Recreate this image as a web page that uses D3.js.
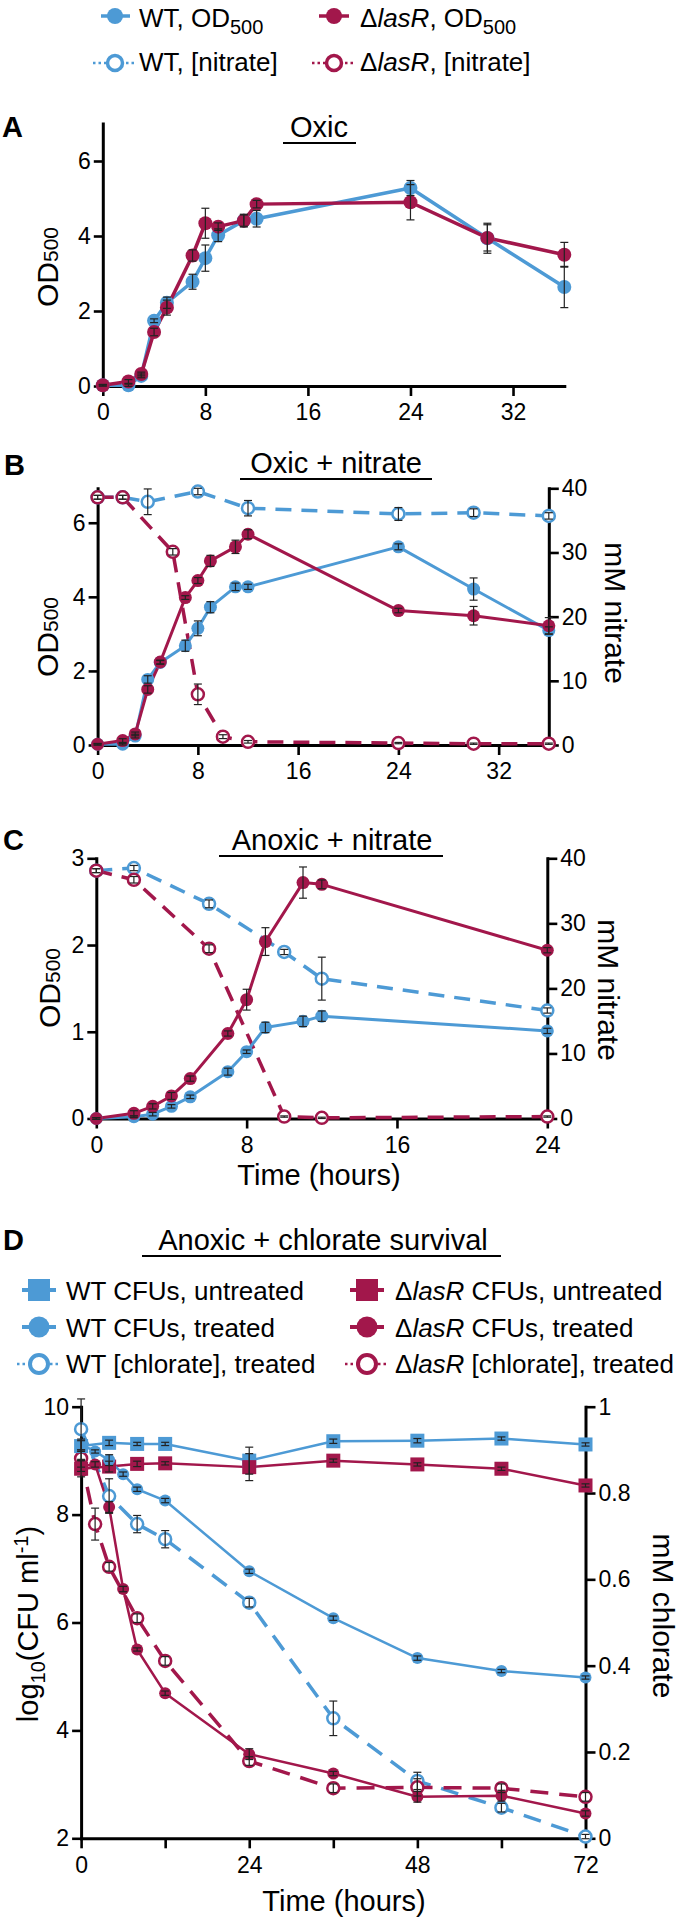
<!DOCTYPE html>
<html><head><meta charset="utf-8">
<script src="https://cdn.jsdelivr.net/npm/d3@7"></script>
<style>body{margin:0;background:#fff} svg{display:block}</style>
</head><body>
<svg id="fig" width="680" height="1924"></svg>
<script>
// ---------------- DATA ----------------
const BLUE = "#4d9ad5", RED = "#a2174b";

// Panel A: Oxic
const hoursA = [0,2,3,4,5,7,8,9,11,12,24,30,36];
const odA_WT = [0.02,0.02,0.27,1.74,2.22,2.78,3.41,4.02,4.41,4.46,5.28,3.94,2.64];
const odA_WT_sd = [0.02,0.03,0.05,0.05,0.15,0.2,0.35,0.17,0.15,0.22,0.2,0.4,0.55];
const odA_lasR = [0.02,0.12,0.32,1.44,2.09,3.48,4.34,4.25,4.41,4.85,4.90,3.95,3.50];
const odA_lasR_sd = [0.02,0.05,0.05,0.1,0.2,0.15,0.4,0.1,0.17,0.1,0.47,0.35,0.33];

// Panel B: Oxic + nitrate
const hoursB = [0,2,3,4,5,7,8,9,11,12,24,30,36];
const odB_WT = [0.02,0.02,0.24,1.77,2.23,2.68,3.15,3.72,4.27,4.27,5.35,4.21,3.09];
const odB_WT_sd = [0.02,0.02,0.05,0.1,0.05,0.15,0.2,0.15,0.1,0.07,0.08,0.3,0.1];
const odB_lasR = [0.02,0.12,0.30,1.50,2.24,3.98,4.44,4.97,5.35,5.69,3.63,3.49,3.22];
const odB_lasR_sd = [0.02,0.05,0.05,0.1,0.05,0.05,0.08,0.15,0.18,0.12,0.06,0.25,0.22];
const hoursB_no3_WT = [0,2,4,8,12,24,30,36];
const no3B_WT = [38.6,38.6,37.9,39.5,36.9,36.0,36.2,35.7];
const no3B_WT_sd = [0.3,0.3,2.0,0.5,1.2,1.0,0.6,0.5];
const hoursB_no3_lasR = [0,2,6,8,10,12,24,30,36];
const no3B_lasR = [38.6,38.6,30.1,7.9,1.3,0.5,0.3,0.2,0.2];
const no3B_lasR_sd = [0.3,0.3,0.5,1.6,0.3,0.2,0.1,0.1,0.1];

// Panel C: Anoxic + nitrate
const hoursC = [0,2,3,4,5,7,8,9,11,12,24];
const odC_WT = [0,0.02,0.05,0.14,0.25,0.54,0.77,1.05,1.12,1.18,1.01];
const odC_WT_sd = [0.01,0.01,0.02,0.02,0.02,0.04,0.02,0.06,0.06,0.06,0.03];
const odC_lasR = [0,0.06,0.14,0.26,0.46,0.98,1.37,2.04,2.72,2.70,1.94];
const odC_lasR_sd = [0.01,0.03,0.03,0.04,0.03,0.03,0.12,0.16,0.18,0.05,0.03];
const hoursC_no3 = [0,2,6,10,12,24];
const no3C_WT = [38.1,38.5,33.0,25.6,21.5,16.6];
const no3C_WT_sd = [0.3,0.4,0.6,0.4,3.3,0.4];
const no3C_lasR = [38.1,36.7,26.1,0.3,0.1,0.3];
const no3C_lasR_sd = [0.3,0.5,0.6,0.1,0.1,0.1];

// Panel D: Anoxic + chlorate survival
const hoursD_untr = [0,4,8,12,24,36,48,60,72];
const cfuD_WT_untr = [9.27,9.33,9.31,9.31,9.00,9.36,9.37,9.41,9.30];
const cfuD_WT_untr_sd = [0.1,0.05,0.03,0.03,0.25,0.04,0.04,0.03,0.03];
const cfuD_lasR_untr = [8.85,8.89,8.94,8.95,8.88,9.00,8.93,8.85,8.54];
const cfuD_lasR_untr_sd = [0.15,0.1,0.05,0.03,0.25,0.03,0.03,0.03,0.03];
const hoursD_trt = [0,2,4,6,8,12,24,36,48,60,72];
const cfuD_WT_trt = [9.3,9.17,9.01,8.75,8.47,8.26,6.95,6.08,5.34,5.10,4.98];
const cfuD_WT_trt_sd = [0.1,0.03,0.1,0.04,0.04,0.04,0.04,0.04,0.04,0.03,0.03];
const cfuD_lasR_trt = [8.9,8.93,8.14,6.62,5.50,4.69,3.56,3.20,2.77,2.79,2.46];
const cfuD_lasR_trt_sd = [0.1,0.05,0.1,0.05,0.03,0.04,0.1,0.04,0.1,0.1,0.05];
const hoursD_clo_WT = [0,4,8,12,24,36,48,60,72];
const cloD_WT = [0.948,0.793,0.728,0.693,0.546,0.278,0.133,0.071,0.004];
const cloD_WT_sd = [0.07,0.04,0.02,0.02,0.01,0.04,0.02,0.01,0.005];
const hoursD_clo_lasR = [0,2,4,8,12,24,36,48,60,72];
const cloD_lasR = [0.88,0.728,0.629,0.51,0.411,0.179,0.116,0.118,0.116,0.096];
const cloD_lasR_sd = [0.02,0.037,0.01,0.01,0.01,0.01,0.01,0.02,0.01,0.01];

// Tick values
const xTicksAB = [0,8,16,24,32];
const xTicksC = [0,8,16,24];
const xTicksD = [0,12,24,36,48,60,72];
const xLabelsD = [0,24,48,72];
const yTicksOD = [0,2,4,6];
const yTicksC = [0,1,2,3];
const yTicksNitrate = [0,10,20,30,40];
const yTicksCFU = [2,4,6,8,10];
const yTicksChlorate = [0,0.2,0.4,0.6,0.8,1];

// ---------------- DRAWING ----------------
const FONT = '"Liberation Sans", Arial, Helvetica, sans-serif';
const svg = d3.select('#fig');
svg.append('rect').attr('width',680).attr('height',1924).attr('fill','#fff');

function rich(parent, x, y, parts, o = {}) {
  const t = parent.append('text')
    .attr('transform', `translate(${x},${y})` + (o.rotate ? ` rotate(${o.rotate})` : ''))
    .attr('text-anchor', o.anchor || 'start')
    .attr('font-family', FONT).attr('font-size', o.size || 26)
    .attr('font-weight', o.weight || 'normal').attr('fill', '#000');
  let cur = 0;
  parts.forEach(p => {
    if (typeof p === 'string') p = {t: p};
    const s = t.append('tspan').text(p.t);
    const sh = p.shift || 0;
    if (sh !== cur) { s.attr('dy', sh - cur); cur = sh; }
    if (p.size) s.attr('font-size', p.size);
    if (p.italic) s.attr('font-style', 'italic');
  });
  return t;
}

function marker(g, cx, cy, kind, color, r, sw) {
  if (kind === 'square') {
    g.append('rect').attr('x', cx - r).attr('y', cy - r).attr('width', 2*r).attr('height', 2*r).attr('fill', color);
  } else if (kind === 'open') {
    g.append('circle').attr('cx', cx).attr('cy', cy).attr('r', r).attr('fill', '#fff').attr('stroke', color).attr('stroke-width', sw || 2.5);
  } else {
    g.append('circle').attr('cx', cx).attr('cy', cy).attr('r', r).attr('fill', color);
  }
}

function styleAxis(ax, fs) {
  ax.selectAll('.domain').attr('stroke', '#000').attr('stroke-width', 3).attr('stroke-linecap', 'square');
  ax.selectAll('.tick line').attr('stroke', '#000').attr('stroke-width', 2.6);
  ax.selectAll('.tick text').attr('fill', '#000').attr('font-family', FONT).attr('font-size', fs || 23);
}

function panel(cfg) {
  const g = svg.append('g');
  const x = d3.scaleLinear().domain(cfg.xDomain).range(cfg.xRange);
  const yL = d3.scaleLinear().domain(cfg.yLDomain).range(cfg.yRange);
  const yR = cfg.yRDomain ? d3.scaleLinear().domain(cfg.yRDomain).range(cfg.yRange) : null;

  const xa = g.append('g').attr('transform', `translate(0,${cfg.yRange[0]})`)
    .call(d3.axisBottom(x).tickValues(cfg.xTicks)
      .tickFormat(d => (cfg.xLabels || cfg.xTicks).includes(d) ? String(d) : '')
      .tickSize(10).tickPadding(8).tickSizeOuter(0));
  styleAxis(xa);
  const la = g.append('g').attr('transform', `translate(${cfg.xRange[0]},0)`)
    .call(d3.axisLeft(yL).tickValues(cfg.yLTicks).tickFormat(d => String(d))
      .tickSize(9).tickPadding(3).tickSizeOuter(0));
  styleAxis(la);
  if (yR) {
    const ra = g.append('g').attr('transform', `translate(${cfg.xRange[1]},0)`)
      .call(d3.axisRight(yR).tickValues(cfg.yRTicks).tickSize(10).tickPadding(3).tickSizeOuter(0)
        .tickFormat(d => String(d)));
    styleAxis(ra);
  }

  const sc = s => (s.axis === 'R' ? yR : yL);
  // lines
  cfg.series.forEach(s => {
    const y = sc(s);
    const line = d3.line().x((d, i) => x(s.xs[i])).y(d => y(d));
    g.append('path').datum(s.ys).attr('d', line).attr('fill', 'none')
      .attr('stroke', s.color).attr('stroke-width', s.lw)
      .attr('stroke-dasharray', s.dash || null).attr('stroke-linejoin', 'round');
  });
  // markers
  cfg.series.forEach(s => {
    const y = sc(s);
    s.ys.forEach((v, i) => marker(g, x(s.xs[i]), y(v), s.kind, s.color, s.r, s.sw));
  });
  // error bars
  cfg.series.forEach(s => {
    const y = sc(s);
    s.ys.forEach((v, i) => {
      const e = s.err[i];
      const cx = x(s.xs[i]), y1 = y(v - e), y2 = y(v + e);
      const eg = g.append('g').attr('stroke', '#222').attr('stroke-width', 1.2);
      eg.append('line').attr('x1', cx).attr('x2', cx).attr('y1', y1).attr('y2', y2);
      eg.append('line').attr('x1', cx - 4).attr('x2', cx + 4).attr('y1', y1).attr('y2', y1);
      eg.append('line').attr('x1', cx - 4).attr('x2', cx + 4).attr('y1', y2).attr('y2', y2);
    });
  });
  return g;
}

function title(txt, cx, base, ux1, ux2, uy) {
  rich(svg, cx, base, [txt], {size: 29, anchor: 'middle'});
  svg.append('line').attr('x1', ux1).attr('x2', ux2).attr('y1', uy).attr('y2', uy)
    .attr('stroke', '#000').attr('stroke-width', 2.2);
}
function letter(t, x, y) { rich(svg, x, y, [t], {size: 29, weight: 'bold'}); }
function odLabel(x, y) { rich(svg, x, y, [{t: 'OD', size: 30}, {t: '500', size: 21}], {rotate: -90, anchor: 'middle'}); }

// ---------- Top legend ----------
function legendItem(cx, cy, kind, color, x1, x2, r, lw, sw) {
  const dotted = kind === 'open';
  svg.append('line').attr('x1', x1).attr('x2', x2).attr('y1', cy).attr('y2', cy)
    .attr('stroke', color).attr('stroke-width', dotted ? 2.5 : lw)
    .attr('stroke-dasharray', dotted ? '2.5,3' : null);
  marker(svg, cx, cy, kind, color, r, sw);
}
legendItem(115, 16, 'filled', BLUE, 101, 130, 8, 3.5);
rich(svg, 139, 27, ['WT, OD', {t: '500', shift: 7, size: 20}], {size: 26});
legendItem(334, 16, 'filled', RED, 319, 349, 8, 3.5);
rich(svg, 360, 27, ['Δ', {t: 'lasR', italic: true}, ', OD', {t: '500', shift: 7, size: 20}], {size: 26});
legendItem(115, 63, 'open', BLUE, 93, 137, 7.5, 3, 3.5);
rich(svg, 139, 71, ['WT, [nitrate]'], {size: 26});
legendItem(334, 63, 'open', RED, 312, 356, 7.5, 3, 3.5);
rich(svg, 360, 71, ['Δ', {t: 'lasR', italic: true}, ', [nitrate]'], {size: 26});

// ---------- Panel A ----------
letter('A', 2, 137);
title('Oxic', 319, 137, 283, 356, 143);
odLabel(58, 267);
panel({
  xDomain: [0, 36], xRange: [102.8, 564.3], yLDomain: [0, 7], yRange: [386, 123.5],
  xTicks: xTicksAB, yLTicks: yTicksOD,
  series: [
    {xs: hoursA, ys: odA_WT, err: odA_WT_sd, color: BLUE, kind: 'filled', lw: 3.5, r: 7},
    {xs: hoursA, ys: odA_lasR, err: odA_lasR_sd, color: RED, kind: 'filled', lw: 3.5, r: 7}
  ]
});

// ---------- Panel B ----------
letter('B', 4, 475);
title('Oxic + nitrate', 336, 473, 240, 432, 479);
odLabel(58, 637);
rich(svg, 605, 613, ['mM nitrate'], {size: 30, rotate: 90, anchor: 'middle'});
panel({
  xDomain: [0, 36], xRange: [97.6, 548.8], yLDomain: [0, 6.93], yRange: [745, 488.3],
  yRDomain: [0, 40], yRTicks: yTicksNitrate,
  xTicks: xTicksAB, yLTicks: yTicksOD,
  series: [
    {xs: hoursB_no3_WT, ys: no3B_WT, err: no3B_WT_sd, color: BLUE, kind: 'open', lw: 3.5, r: 6, sw: 2.5, dash: '16,10', axis: 'R'},
    {xs: hoursB_no3_lasR, ys: no3B_lasR, err: no3B_lasR_sd, color: RED, kind: 'open', lw: 3.5, r: 6, sw: 2.5, dash: '16,10', axis: 'R'},
    {xs: hoursB, ys: odB_WT, err: odB_WT_sd, color: BLUE, kind: 'filled', lw: 3, r: 6.5},
    {xs: hoursB, ys: odB_lasR, err: odB_lasR_sd, color: RED, kind: 'filled', lw: 3, r: 6.5}
  ]
});

// ---------- Panel C ----------
letter('C', 3, 850);
title('Anoxic + nitrate', 332, 850, 219, 443, 856);
odLabel(60, 988);
rich(svg, 598, 990, ['mM nitrate'], {size: 30, rotate: 90, anchor: 'middle'});
panel({
  xDomain: [0, 24], xRange: [96.3, 547.3], yLDomain: [0, 3], yRange: [1118.5, 858.3],
  yRDomain: [0, 40], yRTicks: yTicksNitrate,
  xTicks: xTicksC, yLTicks: yTicksC,
  series: [
    {xs: hoursC_no3, ys: no3C_WT, err: no3C_WT_sd, color: BLUE, kind: 'open', lw: 3.5, r: 6, sw: 2.5, dash: '16,10', axis: 'R'},
    {xs: hoursC_no3, ys: no3C_lasR, err: no3C_lasR_sd, color: RED, kind: 'open', lw: 3.5, r: 6, sw: 2.5, dash: '16,10', axis: 'R'},
    {xs: hoursC, ys: odC_WT, err: odC_WT_sd, color: BLUE, kind: 'filled', lw: 3, r: 6.5},
    {xs: hoursC, ys: odC_lasR, err: odC_lasR_sd, color: RED, kind: 'filled', lw: 3, r: 6.5}
  ]
});
rich(svg, 319, 1185, ['Time (hours)'], {size: 29, anchor: 'middle'});

// ---------- Panel D ----------
letter('D', 3, 1250);
title('Anoxic + chlorate survival', 323, 1250, 142, 501, 1256);
const legD = [
  {cx: 39, tx: 66, cy: 1290, base: 1300, kind: 'square', color: BLUE, parts: ['WT CFUs, untreated']},
  {cx: 39, tx: 66, cy: 1327, base: 1337, kind: 'filled', color: BLUE, parts: ['WT CFUs, treated']},
  {cx: 39, tx: 66, cy: 1364, base: 1373, kind: 'open', color: BLUE, parts: ['WT [chlorate], treated']},
  {cx: 367, tx: 395, cy: 1290, base: 1300, kind: 'square', color: RED, parts: ['Δ', {t: 'lasR', italic: true}, ' CFUs, untreated']},
  {cx: 367, tx: 395, cy: 1327, base: 1337, kind: 'filled', color: RED, parts: ['Δ', {t: 'lasR', italic: true}, ' CFUs, treated']},
  {cx: 367, tx: 395, cy: 1364, base: 1373, kind: 'open', color: RED, parts: ['Δ', {t: 'lasR', italic: true}, ' [chlorate], treated']}
];
legD.forEach(d => {
  if (d.kind === 'open') legendItem(d.cx, d.cy, 'open', d.color, d.cx - 22, d.cx + 22, 9, 3, 4);
  else legendItem(d.cx, d.cy, d.kind, d.color, d.cx - 17, d.cx + 17, d.kind === 'square' ? 11 : 10.5, 4);
  rich(svg, d.tx, d.base, d.parts, {size: 26});
});
rich(svg, 38, 1624, ['log', {t: '10', shift: 7, size: 20}, {t: '(CFU ml', shift: 0}, {t: '-1', shift: -10, size: 20}, {t: ')', shift: 0}], {size: 29, rotate: -90, anchor: 'middle'});
rich(svg, 653, 1616, ['mM chlorate'], {size: 30, rotate: 90, anchor: 'middle'});
panel({
  xDomain: [0, 72], xRange: [81.1, 585.5], yLDomain: [2, 10], yRange: [1838.3, 1406.7],
  yRDomain: [0, 1], yRTicks: yTicksChlorate,
  xTicks: xTicksD, xLabels: xLabelsD, yLTicks: yTicksCFU,
  series: [
    {xs: hoursD_clo_WT, ys: cloD_WT, err: cloD_WT_sd, color: BLUE, kind: 'open', lw: 3.5, r: 6, sw: 2.5, dash: '18,11', axis: 'R'},
    {xs: hoursD_clo_lasR, ys: cloD_lasR, err: cloD_lasR_sd, color: RED, kind: 'open', lw: 3.5, r: 6, sw: 2.5, dash: '18,11', axis: 'R'},
    {xs: hoursD_untr, ys: cfuD_WT_untr, err: cfuD_WT_untr_sd, color: BLUE, kind: 'square', lw: 2.5, r: 7},
    {xs: hoursD_untr, ys: cfuD_lasR_untr, err: cfuD_lasR_untr_sd, color: RED, kind: 'square', lw: 2.5, r: 7},
    {xs: hoursD_trt, ys: cfuD_WT_trt, err: cfuD_WT_trt_sd, color: BLUE, kind: 'filled', lw: 2.5, r: 6},
    {xs: hoursD_trt, ys: cfuD_lasR_trt, err: cfuD_lasR_trt_sd, color: RED, kind: 'filled', lw: 2.5, r: 6}
  ]
});
rich(svg, 344, 1911, ['Time (hours)'], {size: 29, anchor: 'middle'});
</script>
</body></html>
